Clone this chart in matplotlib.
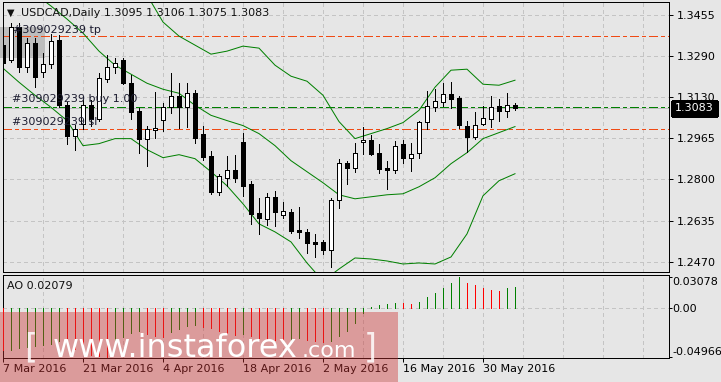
import numpy as np
import pandas as pd
import matplotlib
matplotlib.use('Agg')
import matplotlib.pyplot as plt
from matplotlib.patches import Rectangle


# Data (USDCAD daily)
dates = pd.bdate_range('2016-03-07', periods=65)

opens = [1.3335, 1.3275, 1.3407, 1.3247, 1.3343, 1.3227, 1.3259, 1.3355, 1.3095, 1.2974,
         1.3022, 1.3095, 1.3042, 1.3199, 1.3247, 1.3275, 1.3183, 1.3071, 1.2962, 1.2998,
         1.3038, 1.3087, 1.3131, 1.3087, 1.3143, 1.2982, 1.2894, 1.2750, 1.2806, 1.2838,
         1.2950, 1.2782, 1.2666, 1.2642, 1.2730, 1.2658, 1.2670, 1.2598, 1.2590, 1.2550,
         1.2550, 1.2518, 1.2718, 1.2866, 1.2846, 1.2950, 1.2958, 1.2906, 1.2846, 1.2838,
         1.2942, 1.2886, 1.2906, 1.3030, 1.3087, 1.3107, 1.3139, 1.3123, 1.3014, 1.2970,
         1.3022, 1.3042, 1.3091, 1.3071, 1.3095]
highs = [1.3355, 1.3423, 1.3423, 1.3363, 1.3363, 1.3303, 1.3379, 1.3375, 1.3107, 1.3018,
         1.3115, 1.3115, 1.3223, 1.3295, 1.3283, 1.3283, 1.3215, 1.3083, 1.3014, 1.3147,
         1.3103, 1.3223, 1.3183, 1.3183, 1.3155, 1.3014, 1.2914, 1.2822, 1.2894, 1.2898,
         1.2986, 1.2794, 1.2726, 1.2746, 1.2754, 1.2710, 1.2682, 1.2690, 1.2602, 1.2582,
         1.2558, 1.2726, 1.2882, 1.2874, 1.2946, 1.3010, 1.2978, 1.2942, 1.2874, 1.2954,
         1.2958, 1.2946, 1.3034, 1.3151, 1.3159, 1.3183, 1.3187, 1.3131, 1.3034, 1.3067,
         1.3091, 1.3131, 1.3119, 1.3143, 1.3106]
lows = [1.3243, 1.3267, 1.3227, 1.3227, 1.3167, 1.3207, 1.3243, 1.3087, 1.2942, 1.2918,
        1.3002, 1.3014, 1.3034, 1.3187, 1.3223, 1.3179, 1.3042, 1.2906, 1.2854, 1.2966,
        1.2994, 1.3063, 1.3006, 1.3010, 1.2946, 1.2878, 1.2742, 1.2738, 1.2774, 1.2790,
        1.2734, 1.2622, 1.2582, 1.2618, 1.2614, 1.2646, 1.2586, 1.2566, 1.2506, 1.2490,
        1.2502, 1.2450, 1.2686, 1.2782, 1.2830, 1.2902, 1.2898, 1.2826, 1.2762, 1.2826,
        1.2866, 1.2834, 1.2886, 1.3002, 1.3071, 1.3091, 1.3083, 1.3006, 1.2910, 1.2962,
        1.3018, 1.3010, 1.3034, 1.3050, 1.3075]
closes = [1.3263, 1.3407, 1.3247, 1.3343, 1.3207, 1.3259, 1.3351, 1.3095, 1.2974, 1.3002,
          1.3095, 1.3042, 1.3203, 1.3247, 1.3263, 1.3183, 1.3067, 1.2962, 1.3002, 1.3006,
          1.3087, 1.3131, 1.3087, 1.3143, 1.2966, 1.2890, 1.2750, 1.2814, 1.2838, 1.2806,
          1.2774, 1.2662, 1.2646, 1.2730, 1.2670, 1.2674, 1.2594, 1.2590, 1.2546, 1.2542,
          1.2518, 1.2718, 1.2866, 1.2846, 1.2906, 1.2958, 1.2902, 1.2842, 1.2838, 1.2934,
          1.2886, 1.2902, 1.3030, 1.3091, 1.3111, 1.3139, 1.3119, 1.3018, 1.2970, 1.3018,
          1.3046, 1.3087, 1.3071, 1.3095, 1.3083]

# Bollinger bands, read every second bar
band_bars = list(range(0, 65, 2))
bb_upper = [np.nan] * 9 + [1.3535, 1.3427, 1.3371, 1.3335, 1.3299, 1.3311, 1.3331, 1.3323,
                           1.3255, 1.3211, 1.3191, 1.3135, 1.3030, 1.2962, 1.2982, 1.3002,
                           1.3026, 1.3075, 1.3167, 1.3235, 1.3239, 1.3179, 1.3175, 1.3195]
bb_middle = [1.3627, 1.3583, 1.3539, 1.3491, 1.3439, 1.3383, 1.3311, 1.3255, 1.3219, 1.3183,
             1.3159, 1.3143, 1.3095, 1.3055, 1.3034, 1.3014, 1.2982, 1.2934, 1.2874, 1.2830,
             1.2786, 1.2738, 1.2722, 1.2730, 1.2738, 1.2742, 1.2770, 1.2806, 1.2862, 1.2906,
             1.2962, 1.2986, 1.3010]
bb_lower = [1.3243, 1.3187, 1.3135, 1.3087, 1.3034, 1.2934, 1.2942, 1.2962, 1.2962, 1.2918,
            1.2886, 1.2898, 1.2882, 1.2830, 1.2774, 1.2702, 1.2622, 1.2590, 1.2550, 1.2466,
            1.2394, 1.2442, 1.2486, 1.2482, 1.2474, 1.2462, 1.2466, 1.2462, 1.2490, 1.2582,
            1.2734, 1.2794, 1.2822]

# Awesome Oscillator
ao = [-0.0425, -0.0423, -0.0410, -0.0395, -0.0385, -0.0378, -0.0365, -0.0335, -0.0380, -0.0415,
      -0.0445, -0.0472, -0.0490, -0.04966, -0.0360, -0.0300, -0.0255, -0.0238, -0.0265, -0.0285,
      -0.0295, -0.0245, -0.0215, -0.0190, -0.0172, -0.0192, -0.0205, -0.0235, -0.0255, -0.0272,
      -0.0265, -0.0288, -0.0302, -0.0315, -0.0324, -0.0339, -0.0325, -0.0306, -0.0322, -0.0338,
      -0.0349, -0.0333, -0.0290, -0.0238, -0.0155, -0.0055, 0.0008, 0.0030, 0.0040, 0.0050,
      0.0045, 0.0035, 0.0055, 0.0105, 0.0148, 0.0198, 0.0248, 0.03078, 0.0252, 0.0225,
      0.0198, 0.0178, 0.0170, 0.0195, 0.02079]

order_id = '#309029239'
tp_level = 1.3371
buy_level = 1.3089
sl_level = 1.3000
price_ticks = [1.2470, 1.2635, 1.2800, 1.2965, 1.3130, 1.3290, 1.3455]
ao_ticks = [-0.04966, 0.0, 0.03078]


# Plotting
W, H = 721, 382
bg = '#e6e6e6'
grid_c = '#c4c4c4'
px = 0.72
plt.rcParams['font.family'] = 'DejaVu Sans'
plt.rcParams['font.size'] = 8
plt.rcParams['lines.antialiased'] = False
plt.rcParams['patch.antialiased'] = False

fig = plt.figure(figsize=(W / 100, H / 100), dpi=100, facecolor=bg)
ax = fig.add_axes([3 / W, 1 - 272 / H, 666 / W, 270 / H], facecolor=bg)
ax2 = fig.add_axes([3 / W, 1 - 358 / H, 666 / W, 83 / H], facecolor=bg)

x = np.arange(len(closes))
o, h, l, c = map(np.array, (opens, highs, lows, closes))

for a in (ax, ax2):
    a.set_xlim(0, 83.25)
    for v in range(0, 84, 5):
        a.axvline(v, color=grid_c, lw=px, ls=(0, (3, 3)), zorder=0)
    for s in a.spines.values():
        s.set_linewidth(px)
        s.set_color('black')
    a.yaxis.tick_right()

# main panel
ax.set_ylim(1.2430, 1.3507)
ax.set_yticks(price_ticks)
ax.set_yticklabels([f'{t:.4f}' for t in price_ticks])
ax.grid(axis='y', color=grid_c, lw=px, ls=(0, (3, 3)), zorder=0)
ax.tick_params(axis='y', direction='out', length=3, width=px, pad=2.5, labelsize=8)
ax.tick_params(axis='x', length=0, labelbottom=False)

ax.add_patch(Rectangle((0, 1 - 58 / H), 45 / W, 31 / H, transform=fig.transFigure,
                       facecolor='#bdbdbd', edgecolor='none', zorder=0.5, clip_on=False))

ax.axhline(closes[-1], color='#c0c0c0', lw=px, zorder=1)
ax.axhline(tp_level, color='#f04a14', lw=px, ls=(0, (9, 4, 3, 4)), zorder=1)
ax.axhline(sl_level, color='#f04a14', lw=px, ls=(0, (9, 4, 3, 4)), zorder=1)
ax.axhline(buy_level, color='#008000', lw=px, ls=(0, (9, 4, 3, 4)), zorder=1)

for band in (bb_upper, bb_middle, bb_lower):
    ax.plot(band_bars, band, color='#008000', lw=px, zorder=2, antialiased=True)

ax.vlines(x, l, h, color='black', lw=px, zorder=3)
up = c >= o
body = np.maximum(np.abs(c - o), 0.0004)
ax.bar(x, body, bottom=np.minimum(o, c), width=0.6,
       color=np.where(up, 'white', 'black'), edgecolor='black', lw=px, zorder=4)

ax.text(1 + 6 / 666, closes[-1], f'{closes[-1]:.4f}', transform=ax.get_yaxis_transform(),
        ha='left', va='center', color='white', fontsize=8, zorder=10, clip_on=False,
        bbox=dict(boxstyle='square,pad=0.25', fc='black', ec='black'))

# AO panel
ax2.set_ylim(-0.0507, 0.0328)
ax2.set_yticks(ao_ticks)
ax2.set_yticklabels(['-0.04966', '0.00', '0.03078'])
labs = ax2.get_yticklabels()
labs[0].set_va('bottom')
labs[2].set_va('top')
ax2.axhline(0, color=grid_c, lw=px, ls=(0, (3, 3)), zorder=0)
ax2.tick_params(axis='y', direction='out', length=2.5, width=px, pad=0, labelsize=8)
ao_arr = np.array(ao)
ao_col = ['#ff0000'] + ['#008000' if d > 0 else '#ff0000' for d in np.diff(ao_arr)]
ax2.vlines(x, 0, ao_arr, colors=ao_col, lw=px, zorder=3)

tick_bars = list(range(0, 61, 10))
ax2.set_xticks(tick_bars)
ax2.set_xticklabels([f'{dates[i].day} {dates[i].strftime("%b %Y")}' for i in tick_bars], ha='left')
ax2.tick_params(axis='x', direction='out', length=3, width=px, pad=1.5, labelsize=8)

# texts
fig.text(7 / W, 1 - 13 / H, '▼', fontsize=7, va='center', color='#111111')
fig.text(21 / W, 1 - 13 / H, 'USDCAD,Daily 1.3095 1.3106 1.3075 1.3083',
         fontsize=8, va='center', color='#111111')
fig.text(13 / W, 1 - 30 / H, f'{order_id} tp', fontsize=8, va='center', color='#1c1c30')
fig.text(12 / W, 1 - 99 / H, f'{order_id} buy 1.00', fontsize=8, va='center', color='#1c1c30')
fig.text(12 / W, 1 - 122 / H, f'{order_id} sl', fontsize=8, va='center', color='#1c1c30')
fig.text(7 / W, 1 - 286 / H, f'AO {ao[-1]:.5f}', fontsize=8, va='center', color='#111111')

# watermark
fig.patches.append(Rectangle((0, 0), 398 / W, 1 - 312 / H, transform=fig.transFigure,
                             facecolor='#cc3333', alpha=0.42, edgecolor='none', zorder=20))
fig.text(24 / W, 1 - 357 / H, '[', fontsize=24, color='white', alpha=0.85, zorder=21)
fig.text(53 / W, 1 - 357 / H, 'www.instaforex', fontsize=23, color='white', zorder=21)
fig.text(302 / W, 1 - 357 / H, '.com', fontsize=16, color='white', zorder=21)
fig.text(364 / W, 1 - 357 / H, ']', fontsize=24, color='white', alpha=0.85, zorder=21)

fig.savefig('out.png', dpi=100, facecolor=bg)
